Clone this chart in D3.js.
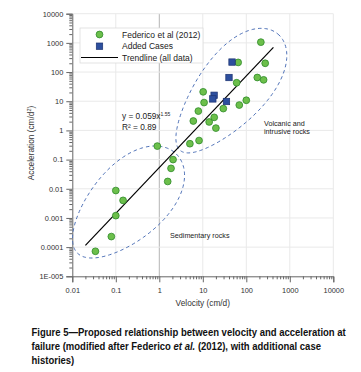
<!DOCTYPE html>
<html>
<head>
<meta charset="utf-8">
<script src="https://cdn.jsdelivr.net/npm/d3@7"></script>
<style>
  body { margin: 0; background: #fff; }
  svg { display: block; font-family: "Liberation Sans", Arial, sans-serif; }
</style>
</head>
<body>
<div id="chart"></div>
<script>
// values
var fedVel = [0.034, 0.079, 0.1, 0.1, 0.147, 0.9, 1.56, 1.86, 2.07, 5.05, 8.2, 6.05, 7.9, 10.2, 10.7, 14, 18.3, 20, 29.6, 60, 65, 69, 100, 179, 250, 216, 272];
var fedAcc = [7.2e-5, 2.3e-4, 0.0012, 0.0087, 0.004, 0.29, 0.0178, 0.05, 0.1, 0.35, 0.45, 2.1, 4.6, 21, 9.0, 1.95, 2.8, 1.2, 5.6, 43, 214, 7.4, 10.8, 65, 54, 1060, 200];
var addVel = [47, 40, 18.2, 17, 35];
var addAcc = [220, 65, 16, 12, 9.8];
var trendVel = [0.02, 420];
var trendAcc = [0.000115, 700];
var xTicks = [0.01, 0.1, 1, 10, 100, 1000, 10000];
var yTicks = [1e-5, 1e-4, 1e-3, 0.01, 0.1, 1, 10, 100, 1000, 10000];
var yLabels = ["1E-005", "0.0001", "0.001", "0.01", "0.1", "1", "10", "100", "1000", "10000"];
var legendNames = ["Federico et al (2012)", "Added Cases", "Trendline (all data)"];
var captionLines = [
  [["Figure 5\u2014Proposed relationship between velocity and acceleration at", "normal"]],
  [["failure (modified after Federico ", "normal"], ["et al.", "italic"], [" (2012), with additional case", "normal"]],
  [["histories)", "normal"]]
];
// regions: centre (velocity, acceleration), half-axes in px, tilt, taper
var regions = [
  {vel: 0.18, acc: 0.0031, a: 70, b: 37, ang: -45, e: 0.15},
  {vel: 40, acc: 20.4, a: 76, b: 34, ang: -50, e: 0.22}
];

var W = 361, H = 372;
var svg = d3.select("#chart").append("svg")
    .attr("width", W).attr("height", H);
svg.append("rect").attr("width", W).attr("height", H).attr("fill", "#fff");

var x = d3.scaleLog().domain([0.01, 10000]).range([72.3, 333.3]);
var y = d3.scaleLog().domain([1e-5, 10000]).range([276.3, 13.7]);

// minor tick values
function minors(dom) {
    var out = [];
    for (var e = Math.log10(dom[0]); e < Math.log10(dom[1]); e++) {
        for (var k = 2; k <= 9; k++) out.push(k * Math.pow(10, e));
    }
    return out;
}

// grid
var grid = svg.append("g");
grid.selectAll(".gx").data(xTicks.slice(1)).enter().append("line")
    .attr("x1", d => x(d)).attr("x2", d => x(d))
    .attr("y1", y(10000)).attr("y2", y(1e-5))
    .attr("stroke", d => d === 1 ? "#b4b4b4" : "#e9e9e9").attr("stroke-width", 1);
grid.selectAll(".gy").data(yTicks.slice(1)).enter().append("line")
    .attr("x1", x(0.01)).attr("x2", x(10000))
    .attr("y1", d => y(d)).attr("y2", d => y(d))
    .attr("stroke", "#e9e9e9").attr("stroke-width", 1);

// axes
var yAxis = svg.append("g").attr("transform", "translate(" + x(0.01) + ",0)")
    .call(d3.axisLeft(y).tickValues(yTicks).tickSize(6).tickPadding(3)
        .tickFormat((d, i) => yLabels[i]));
svg.append("g").attr("transform", "translate(" + x(0.01) + ",0)")
    .call(d3.axisLeft(y).tickValues(minors(y.domain())).tickSize(3).tickFormat(""))
    .select(".domain").remove();
var xAxis = svg.append("g").attr("transform", "translate(0," + y(1e-5) + ")")
    .call(d3.axisBottom(x).tickValues(xTicks).tickSize(6).tickPadding(5)
        .tickFormat(d => String(d)));
svg.append("g").attr("transform", "translate(0," + y(1e-5) + ")")
    .call(d3.axisBottom(x).tickValues(minors(x.domain())).tickSize(3).tickFormat(""))
    .select(".domain").remove();

svg.selectAll(".domain").attr("stroke", "#666");
svg.selectAll(".tick line").attr("stroke", "#666");
svg.selectAll(".tick text").attr("fill", "#333").style("font-size", "7.4px")
    .style("font-family", "Liberation Sans, Arial, sans-serif");

// axis titles
svg.append("text").attr("x", 202.8).attr("y", 305.5).attr("text-anchor", "middle")
    .attr("fill", "#333").style("font-size", "8.3px").text("Velocity (cm/d)");
var yt = svg.append("text").attr("transform", "translate(34,143) rotate(-90)")
    .attr("text-anchor", "middle").attr("fill", "#333").style("font-size", "8.3px");
yt.append("tspan").text("Acceleration (cm/d");
yt.append("tspan").attr("dy", -3).style("font-size", "5.5px").text("2");
yt.append("tspan").attr("dy", 3).text(")");

// dashed regions
regions.forEach(function(r) {
    var cx = x(r.vel), cy = y(r.acc);
    var th = r.ang * Math.PI / 180;
    var ux = Math.cos(th), uy = Math.sin(th);
    var vx = -uy, vy = ux;
    var pts = d3.range(0, 2 * Math.PI + 0.001, Math.PI / 90).map(function(t) {
        var u = r.a * Math.cos(t);
        var v = r.b * (1 + r.e * Math.cos(t)) * Math.sin(t);
        return [cx + u * ux + v * vx, cy + u * uy + v * vy];
    });
    svg.append("path").attr("d", d3.line()(pts))
        .attr("fill", "none").attr("stroke", "#4f72b8")
        .attr("stroke-width", 1).attr("stroke-dasharray", "3.5,3");
});

// trendline
svg.append("path")
    .attr("d", d3.line().x(d => x(d[0])).y(d => y(d[1]))(d3.zip(trendVel, trendAcc)))
    .attr("stroke", "#000").attr("stroke-width", 1.2).attr("fill", "none");

// points
svg.selectAll(".fed").data(d3.zip(fedVel, fedAcc)).enter().append("circle")
    .attr("cx", d => x(d[0])).attr("cy", d => y(d[1])).attr("r", 3.4)
    .attr("fill", "#6cbf4b").attr("stroke", "#2f8a2a").attr("stroke-width", 0.8);
svg.selectAll(".add").data(d3.zip(addVel, addAcc)).enter().append("rect")
    .attr("x", d => x(d[0]) - 3.2).attr("y", d => y(d[1]) - 3.2)
    .attr("width", 6.4).attr("height", 6.4)
    .attr("fill", "#2d4f9e").attr("stroke", "#1c3270").attr("stroke-width", 0.7);

// legend
var lg = svg.append("g");
lg.append("rect").attr("x", 80).attr("y", 28).attr("width", 123).attr("height", 35)
    .attr("fill", "#fff").attr("stroke", "#dcdcdc").attr("stroke-width", 0.8);
lg.append("circle").attr("cx", 99.5).attr("cy", 34.5).attr("r", 3.4)
    .attr("fill", "#6cbf4b").attr("stroke", "#2f8a2a").attr("stroke-width", 0.8);
lg.append("rect").attr("x", 96.3).attr("y", 43).attr("width", 6.4).attr("height", 6.4)
    .attr("fill", "#2d4f9e").attr("stroke", "#1c3270").attr("stroke-width", 0.7);
lg.append("line").attr("x1", 81).attr("x2", 118).attr("y1", 57.5).attr("y2", 57.5)
    .attr("stroke", "#000").attr("stroke-width", 1.2);
lg.selectAll(".lt").data(legendNames).enter().append("text")
    .attr("x", 122).attr("y", (d, i) => 37.5 + i * 11.7)
    .attr("fill", "#222").style("font-size", "8.5px").text(d => d);

// equation
var eq = svg.append("text").attr("x", 122).attr("y", 119).attr("fill", "#222")
    .style("font-size", "8.3px");
eq.append("tspan").text("y = 0.059x");
eq.append("tspan").attr("dy", -3.5).style("font-size", "5px").text("1.55");
svg.append("text").attr("x", 122).attr("y", 129.5).attr("fill", "#222")
    .style("font-size", "8.3px").text("R\u00b2 = 0.89");

// region labels
svg.append("text").attr("x", 264).attr("y", 125.5).attr("fill", "#222")
    .style("font-size", "7.2px").text("Volcanic and");
svg.append("text").attr("x", 264).attr("y", 133.5).attr("fill", "#222")
    .style("font-size", "7.2px").text("intrusive rocks");
svg.append("text").attr("x", 170).attr("y", 238).attr("fill", "#222")
    .style("font-size", "7.2px").text("Sedimentary rocks");

// caption, squeezed to the reference's condensed face
var capTexts = captionLines.map(function(parts, i) {
    var t = svg.append("text").attr("fill", "#111")
        .style("font-size", "11px").style("font-weight", "bold");
    parts.forEach(function(p) {
        t.append("tspan").style("font-style", p[1]).text(p[0]);
    });
    return t;
});
var k = 315 / capTexts[0].node().getComputedTextLength();
capTexts.forEach(function(t, i) {
    t.attr("transform", "translate(31.5," + (335.5 + i * 14) + ") scale(" + k + ",1)");
});
</script>
</body>
</html>
